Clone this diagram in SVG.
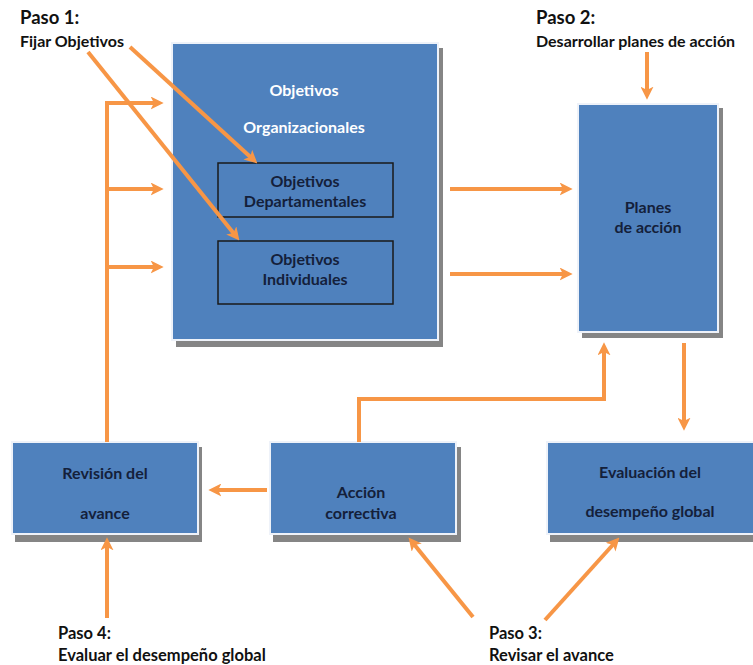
<svg xmlns="http://www.w3.org/2000/svg" width="753" height="665" viewBox="0 0 753 665">
<defs>
<marker id="ah" markerUnits="userSpaceOnUse" markerWidth="13" markerHeight="13" viewBox="0 0 12 12" refX="4" refY="6" orient="auto">
<path d="M0,0 L12,6 L0,12 L3,6 z" fill="#f79646"/>
</marker>
</defs>
<style>
.box{fill:#4f81bd;stroke:#eef2f9;stroke-width:2}
.shadow{fill:#858585}
.inner{fill:#4f81bd;stroke:#1a1a1a;stroke-width:1.5}
.conn{stroke:#f79646;stroke-width:4;fill:none}
.arr{marker-end:url(#ah)}
text{font-family:Lato,"Open Sans","Liberation Sans",sans-serif;font-weight:bold}
.bt{font-size:16px;fill:#14203a;text-anchor:middle}
.wt{font-size:16px;fill:#ffffff;text-anchor:middle}
.lbl{font-size:16px;fill:#111111}
.low{font-size:16.5px;fill:#111111}
.step{font-size:18.5px;fill:#111111}
</style>
<rect width="753" height="665" fill="#ffffff"/>

<g id="objetivos-organizacionales">
<rect class="shadow" x="176" y="48" width="267" height="299"/>
<rect class="box" x="172" y="43" width="266" height="297"/>
<text class="wt" x="304" y="96">Objetivos</text>
<text class="wt" x="304" y="133">Organizacionales</text>
</g>
<g id="objetivos-departamentales">
<rect class="inner" x="218" y="163" width="175" height="54"/>
<text class="bt" x="305" y="187">Objetivos</text>
<text class="bt" x="305" y="207">Departamentales</text>
</g>
<g id="objetivos-individuales">
<rect class="inner" x="218" y="241" width="175" height="63"/>
<text class="bt" x="305" y="265">Objetivos</text>
<text class="bt" x="305" y="285">Individuales</text>
</g>
<g id="planes-accion">
<rect class="shadow" x="582" y="108" width="141" height="230"/>
<rect class="box" x="578" y="104" width="140" height="228"/>
<text class="bt" x="648" y="213">Planes</text>
<text class="bt" x="648" y="233">de acción</text>
</g>
<g id="revision-avance">
<rect class="shadow" x="15" y="447" width="187" height="95"/>
<rect class="box" x="12" y="442" width="186" height="92"/>
<text class="bt" x="105" y="479">Revisión del</text>
<text class="bt" x="105" y="519">avance</text>
</g>
<g id="accion-correctiva">
<rect class="shadow" x="273" y="447" width="188" height="95"/>
<rect class="box" x="270" y="442" width="186" height="92"/>
<text class="bt" x="361" y="498">Acción</text>
<text class="bt" x="361" y="519">correctiva</text>
</g>
<g id="evaluacion-desempeno">
<rect class="shadow" x="550" y="447" width="215" height="95"/>
<rect class="box" x="547" y="442" width="212" height="92"/>
<text class="bt" x="650" y="478">Evaluación del</text>
<text class="bt" x="650" y="517">desempeño  global</text>
</g>

<g id="labels">
<text class="step" x="20" y="24">Paso 1:</text>
<text class="lbl" x="20" y="47">Fijar Objetivos</text>
<text class="step" x="536" y="24">Paso 2:</text>
<text class="lbl" x="536" y="47">Desarrollar planes de acción</text>
<text class="low" x="58" y="639">Paso 4:</text>
<text class="low" x="58" y="661">Evaluar el desempeño global</text>
<text class="low" x="489" y="639">Paso 3:</text>
<text class="low" x="489" y="661">Revisar el avance</text>
</g>

<g id="connectors">
<path class="conn arr" d="M107,442 V103 H155"/>
<path class="conn arr" d="M107,189 H155"/>
<path class="conn arr" d="M107,267 H155"/>
<path class="conn arr" d="M130,47 L251,157.6"/>
<path class="conn arr" d="M88,52 L234,233.8"/>
<path class="conn arr" d="M450,189 H564"/>
<path class="conn arr" d="M450,274 H564"/>
<path class="conn arr" d="M647,52 V91"/>
<path class="conn arr" d="M684,343 V422"/>
<path class="conn arr" d="M359,442 V399 H604 V351"/>
<path class="conn arr" d="M267,490 H217"/>
<path class="conn arr" d="M107,618 V546"/>
<path class="conn arr" d="M473,617 L414,544.2"/>
<path class="conn arr" d="M545,620 L613.6,544"/>
</g>
</svg>
